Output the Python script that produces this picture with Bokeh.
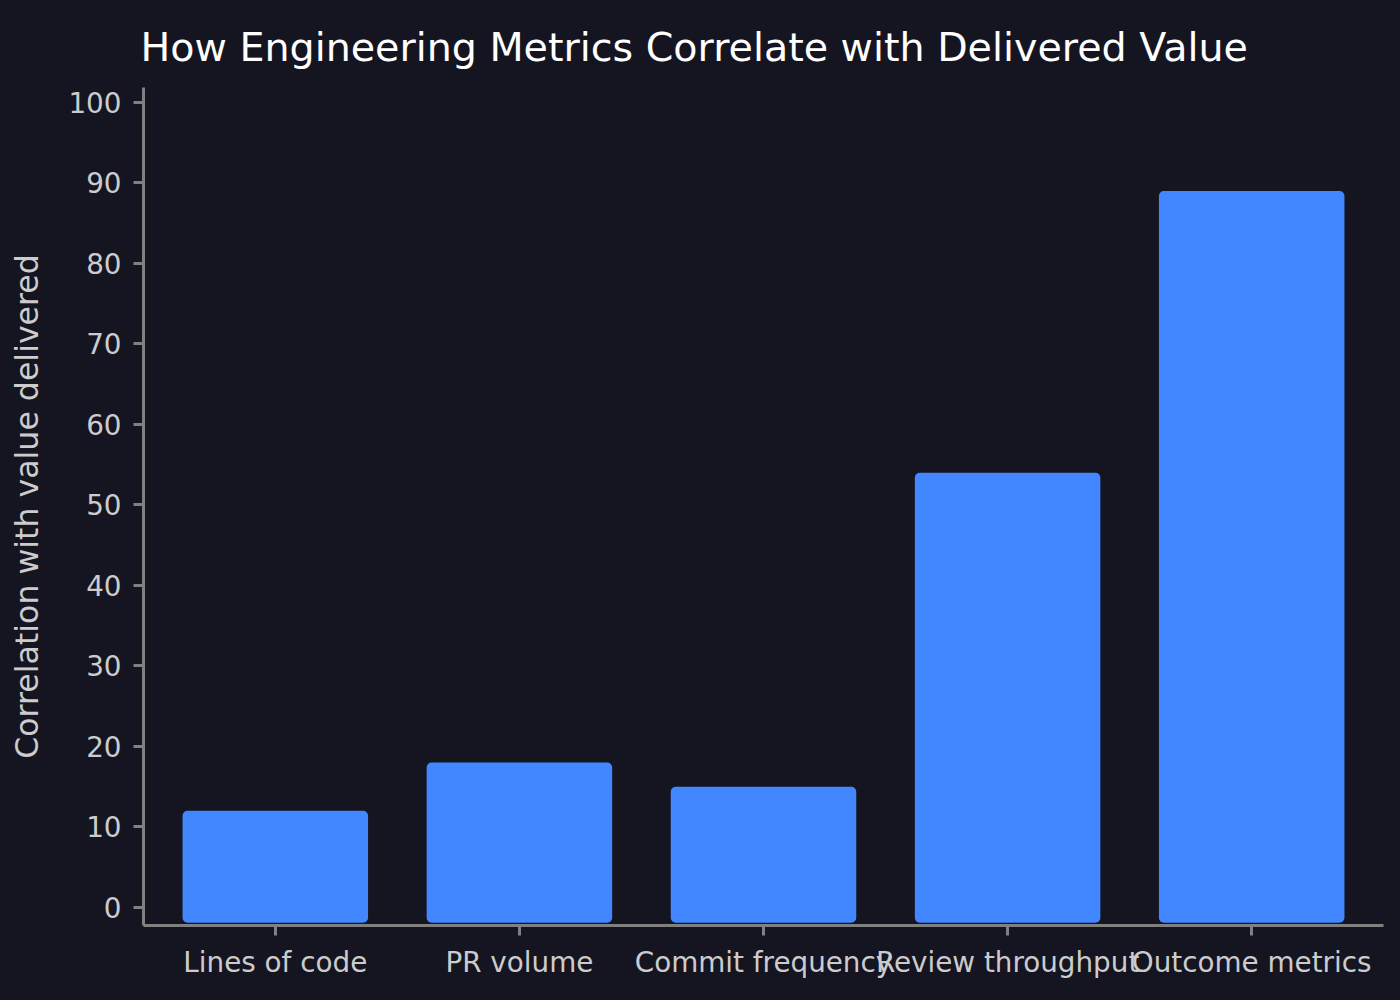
from bokeh.plotting import figure
from bokeh.models import FactorRange, Range1d, FixedTicker
from bokeh.embed import file_html
from bokeh.resources import INLINE

# ---- data ----
title_text = "How Engineering Metrics Correlate with Delivered Value"
categories = ["Lines of code", "PR volume", "Commit frequency", "Review throughput", "Outcome metrics"]
values = [12, 18, 15, 54, 89]
y_ticks = [0, 10, 20, 30, 40, 50, 60, 70, 80, 90, 100]

BG = "#151522"
BAR = "#4287ff"
AXIS = "#808080"
LABEL = "#cccccc"
FONT = "DejaVu Sans"

p = figure(
    x_range=FactorRange(*categories, range_padding=0.016),
    y_range=Range1d(-2.24, 101.86),
    width=1384, height=984,
    output_backend="svg", toolbar_location=None,
    min_border_left=143, min_border_right=1,
    min_border_top=87, min_border_bottom=59,
    title=title_text,
)
p.background_fill_color = BG
p.border_fill_color = BG
p.outline_line_color = None
p.xgrid.visible = False
p.ygrid.visible = False

p.vbar(x=categories, top=values, bottom=-1.9, width=0.76,
       fill_color=BAR, line_color=None, border_radius=5)

p.title.text_font = FONT
p.title.text_font_size = "39.6px"
p.title.text_font_style = "normal"
p.title.text_color = "#ffffff"
p.title.align = "left"
p.title.offset = -3
p.title.standoff = 35

for ax in (p.xaxis[0], p.yaxis[0]):
    ax.axis_line_color = AXIS
    ax.axis_line_width = 3
    ax.major_tick_line_color = AXIS
    ax.major_tick_line_width = 3
    ax.major_tick_out = 10
    ax.major_tick_in = 0
    ax.minor_tick_line_color = None
    ax.major_label_text_font = FONT
    ax.major_label_text_font_size = "27.8px"
    ax.major_label_text_color = LABEL

p.xaxis[0].major_label_standoff = 10
p.yaxis[0].ticker = FixedTicker(ticks=y_ticks)
p.yaxis[0].major_label_standoff = 12
p.yaxis[0].axis_label = "Correlation with value delivered"
p.yaxis[0].axis_label_text_font = FONT
p.yaxis[0].axis_label_text_font_size = "31.6px"
p.yaxis[0].axis_label_text_font_style = "normal"
p.yaxis[0].axis_label_text_color = LABEL
p.yaxis[0].axis_label_standoff = 20

html = file_html(p, INLINE)
html = html.replace("<head>", "<head><style>html,body{background:#151522;}</style>", 1)
open("out.html", "w").write(html)
